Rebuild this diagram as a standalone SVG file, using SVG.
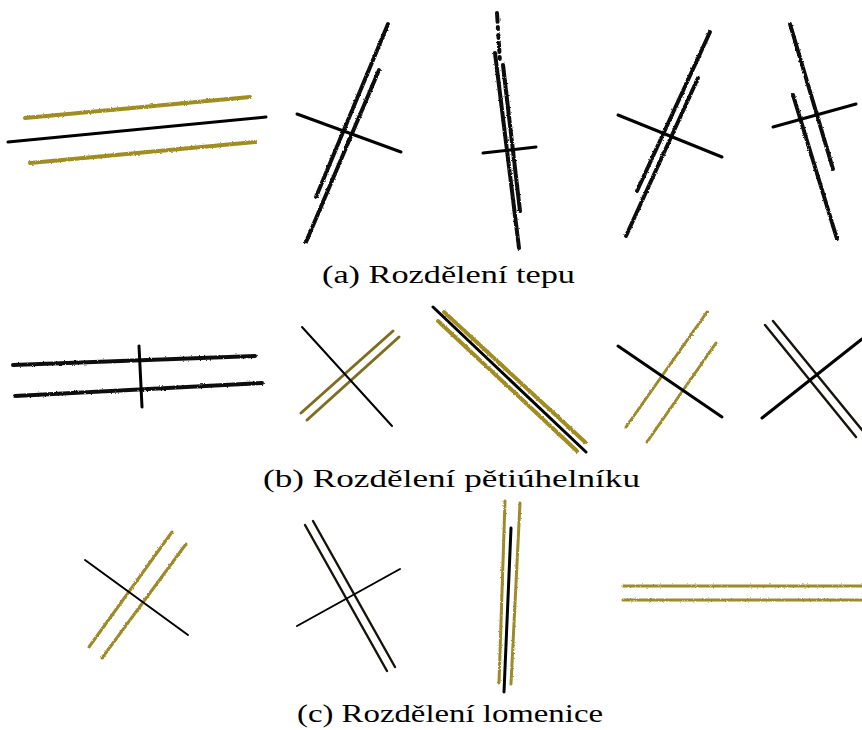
<svg xmlns="http://www.w3.org/2000/svg" width="862" height="730" viewBox="0 0 862 730">
  <defs>
    <!-- grainy, hand-traced stroke texture (user-space region so flat lines still render) -->
    <filter id="rough" filterUnits="userSpaceOnUse" x="0" y="0" width="862" height="730">
      <feTurbulence type="fractalNoise" baseFrequency="0.6" numOctaves="2" seed="3" result="n"/>
      <feDisplacementMap in="SourceGraphic" in2="n" scale="2.4" xChannelSelector="R" yChannelSelector="G"/>
    </filter>
    <filter id="rough2" filterUnits="userSpaceOnUse" x="0" y="0" width="862" height="730">
      <feTurbulence type="fractalNoise" baseFrequency="0.35" numOctaves="2" seed="7" result="n"/>
      <feDisplacementMap in="SourceGraphic" in2="n" scale="3" xChannelSelector="R" yChannelSelector="G"/>
    </filter>
  </defs>
  <style>
    line { stroke-linecap: round; fill: none; }
    .cut { stroke: #000; stroke-width: 3; }
    .cutThin { stroke: #000; stroke-width: 2; }
    .trace { stroke: #111; stroke-width: 4; filter: url(#rough); }
    .gold { stroke: #a08d24; stroke-width: 4; filter: url(#rough); }
    .goldThin { stroke: #9d8b2a; stroke-width: 3; filter: url(#rough); }
    .olive { stroke: #7d6e22; stroke-width: 3; }
    .pair { stroke: #16140a; stroke-width: 2.4; }
    .caption { font-family: "Liberation Serif", "DejaVu Serif", serif; font-size: 26px; fill: #000; }
  </style>
  <rect width="862" height="730" fill="#fff"/>

  <!-- (a) pulse splitting -->
  <g id="a1">
    <line class="gold" x1="25" y1="118" x2="250" y2="97"/>
    <line class="gold" x1="30" y1="163" x2="255" y2="142"/>
    <line class="cut" stroke-width="3.5" x1="8" y1="142" x2="266" y2="117"/>
  </g>
  <g id="a2">
    <line class="trace" x1="388" y1="24" x2="316" y2="197"/>
    <line class="trace" x1="379" y1="70" x2="306" y2="242"/>
    <line class="cut" x1="297" y1="114" x2="401" y2="152"/>
  </g>
  <g id="a3">
    <line class="trace" x1="495" y1="53" x2="519" y2="248"/>
    <line class="trace" x1="503" y1="65" x2="520" y2="211"/>
    <line class="trace" stroke-width="3" stroke-dasharray="9 5 2 6 3 5" x1="497" y1="13" x2="500" y2="62"/>
    <line class="cut" x1="483" y1="153" x2="536" y2="147"/>
  </g>
  <g id="a4">
    <line class="trace" x1="710" y1="32" x2="637" y2="191"/>
    <line class="trace" x1="698" y1="78" x2="626" y2="236"/>
    <line class="cut" x1="618" y1="115" x2="722" y2="157"/>
  </g>
  <g id="a5">
    <line class="trace" x1="790" y1="24" x2="833" y2="169"/>
    <line class="trace" x1="793" y1="95" x2="837" y2="239"/>
    <line class="cut" x1="773" y1="127" x2="856" y2="104"/>
  </g>
  <text class="caption" x="322" y="283" textLength="253" lengthAdjust="spacingAndGlyphs">(a) Rozdělení tepu</text>

  <!-- (b) pentagon splitting -->
  <g id="b1">
    <line class="trace" filter="url(#rough2)" x1="13" y1="365" x2="255" y2="356"/>
    <line class="trace" filter="url(#rough2)" x1="15" y1="396" x2="262" y2="383"/>
    <line class="cut" x1="139" y1="346" x2="142" y2="407"/>
  </g>
  <g id="b2">
    <line class="olive" x1="301" y1="413" x2="393" y2="331"/>
    <line class="olive" x1="307" y1="420" x2="399" y2="337"/>
    <line class="cutThin" x1="302" y1="327" x2="392" y2="426"/>
  </g>
  <g id="b3">
    <line class="gold" filter="none" stroke="#b3a232" x1="444" y1="312" x2="585" y2="442"/>
    <line class="gold" filter="none" stroke="#b3a232" x1="438" y1="321" x2="577" y2="451"/>
    <line class="cut" x1="433" y1="307" x2="586" y2="452"/>
  </g>
  <g id="b4">
    <line class="goldThin" x1="707" y1="312" x2="626" y2="427"/>
    <line class="goldThin" x1="716" y1="343" x2="647" y2="442"/>
    <line class="cut" x1="618" y1="346" x2="722" y2="417"/>
  </g>
  <g id="b5">
    <line class="pair" x1="765" y1="325" x2="856" y2="437"/>
    <line class="pair" x1="773" y1="321" x2="862" y2="430"/>
    <line class="cut" stroke-width="2.4" x1="762" y1="418" x2="862" y2="339"/>
  </g>
  <text class="caption" x="263" y="487" textLength="377" lengthAdjust="spacingAndGlyphs">(b) Rozdělení pětiúhelníku</text>

  <!-- (c) polyline splitting -->
  <g id="c1">
    <line class="goldThin" stroke="#9a8828" x1="172" y1="532" x2="89" y2="647"/>
    <line class="goldThin" stroke="#9a8828" x1="186" y1="544" x2="102" y2="658"/>
    <line class="cutThin" x1="85" y1="560" x2="188" y2="635"/>
  </g>
  <g id="c2">
    <line class="pair" stroke-width="2.8" x1="305" y1="525" x2="387" y2="671"/>
    <line class="pair" stroke-width="2.8" x1="313" y1="521" x2="395" y2="667"/>
    <line class="cutThin" x1="297" y1="626" x2="400" y2="569"/>
  </g>
  <g id="c3">
    <line class="goldThin" stroke="#a8952a" x1="505" y1="501" x2="499" y2="683"/>
    <line class="goldThin" stroke="#a8952a" x1="520" y1="503" x2="511" y2="684"/>
    <line class="cut" x1="511" y1="528" x2="504" y2="692"/>
  </g>
  <g id="c4">
    <line class="goldThin" stroke="#a8952a" stroke-linecap="butt" x1="623" y1="586" x2="862" y2="586"/>
    <line class="goldThin" stroke="#a8952a" stroke-linecap="butt" x1="623" y1="600" x2="862" y2="600"/>
  </g>
  <text class="caption" x="297" y="722" textLength="306" lengthAdjust="spacingAndGlyphs">(c) Rozdělení lomenice</text>
</svg>
